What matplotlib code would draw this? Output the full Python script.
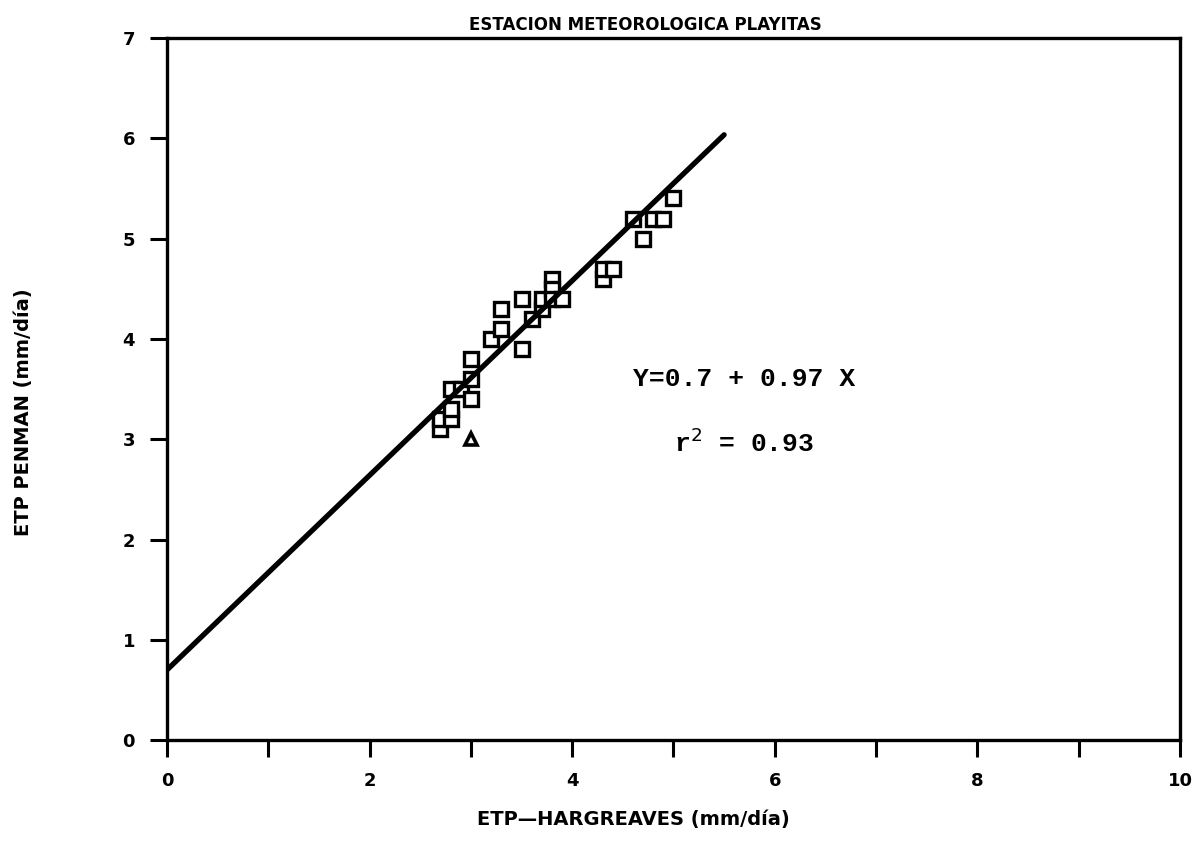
import matplotlib
matplotlib.use("Agg")
import matplotlib.pyplot as plt

# ETP values (mm/dia), Hargreaves vs Penman
hargreaves = [2.7, 2.7, 2.8, 2.8, 2.8, 2.9, 3.0, 3.0, 3.0, 3.2, 3.3, 3.3,
              3.5, 3.5, 3.6, 3.7, 3.7, 3.8, 3.8, 3.8, 3.9, 4.3, 4.3, 4.4,
              4.6, 4.7, 4.8, 4.9, 5.0]
penman = [3.1, 3.2, 3.2, 3.3, 3.5, 3.5, 3.4, 3.6, 3.8, 4.0, 4.1, 4.3,
          4.4, 3.9, 4.2, 4.3, 4.4, 4.6, 4.5, 4.4, 4.4, 4.6, 4.7, 4.7,
          5.2, 5.0, 5.2, 5.2, 5.4]

# odd point plotted with a triangle
outlier_x = [3.0]
outlier_y = [3.0]

intercept, slope = 0.7, 0.97
r2 = 0.93
fit_x = [0.0, 5.5]

fig = plt.figure(figsize=(12.01, 8.44), dpi=100)
ax = fig.add_axes([0.139, 0.123, 0.8435, 0.832])

fit_y = [intercept + slope * x for x in fit_x]
ax.plot(fit_x, fit_y, color="black", lw=3.8, solid_capstyle="round", zorder=3)
ax.plot(hargreaves, penman, linestyle="none", marker="s", markersize=10,
        markerfacecolor="white", markeredgecolor="black", markeredgewidth=2.4,
        zorder=2)
ax.plot(outlier_x, outlier_y, linestyle="none", marker="^", markersize=8,
        markerfacecolor="white", markeredgecolor="black", markeredgewidth=2.6)

ax.set_xlim(0, 10)
ax.set_ylim(0, 7)
ax.set_xticks(range(0, 11))
ax.set_xticklabels([str(i) if i % 2 == 0 else "" for i in range(0, 11)])
ax.set_yticks(range(0, 8))

for side in ax.spines.values():
    side.set_linewidth(2.4)
ax.tick_params(direction="out", length=12, width=2.2, pad=11,
               labelsize=13)
for lbl in ax.get_xticklabels() + ax.get_yticklabels():
    lbl.set_fontweight("bold")

ax.text(5.7, 3.6, "Y=0.7 + 0.97 X", family="Liberation Mono",
        fontweight="bold", fontsize=19, ha="center", va="center")
ax.text(5.7, 2.97, f"r$^2$ = {r2:.2f}", family="Liberation Mono",
        fontweight="bold", fontsize=19, ha="center", va="center")

fig.text(645 / 1201, 1 - 25 / 844, "ESTACION METEOROLOGICA PLAYITAS",
         ha="center", va="center", fontsize=12, fontweight="bold")
fig.text(633 / 1201, 1 - 820 / 844, "ETP\u2014HARGREAVES (mm/d\u00eda)",
         ha="center", va="center", fontsize=14, fontweight="bold")
fig.text(24 / 1201, 1 - 412 / 844, "ETP PENMAN (mm/d\u00eda)",
         ha="center", va="center", fontsize=14, fontweight="bold",
         rotation=90)

fig.savefig("out.png", dpi=100)
